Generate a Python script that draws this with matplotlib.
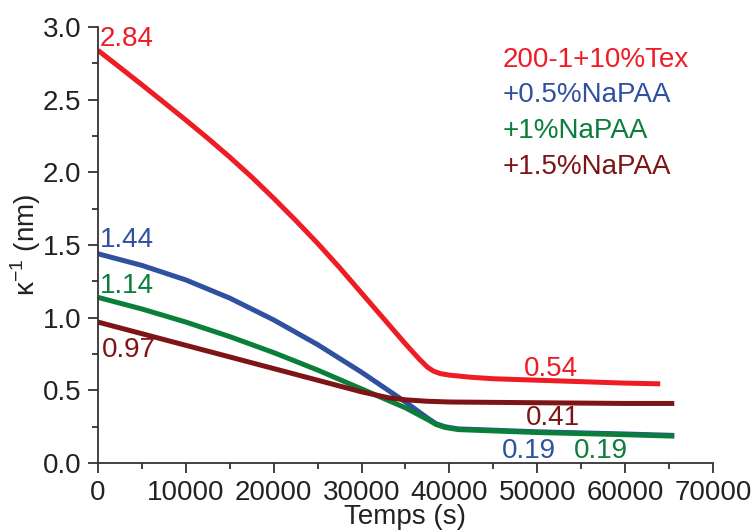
import matplotlib.pyplot as plt
from matplotlib.ticker import MultipleLocator

plt.rcParams['font.family'] = ['Liberation Sans', 'DejaVu Sans']
plt.rcParams['mathtext.fontset'] = 'custom'
plt.rcParams['mathtext.rm'] = 'Liberation Sans'

# curves
t_red = [0, 2500, 5000, 7500, 10000, 12500, 15000, 17500, 20000, 22500, 25000, 27500, 30000,
         32500, 35000, 36500, 37500, 38200, 39000, 40000, 42500, 45000, 50000, 55000, 60000, 64000]
k_red = [2.84, 2.722, 2.603, 2.482, 2.36, 2.235, 2.105, 1.968, 1.822, 1.67, 1.512, 1.345, 1.17,
         0.995, 0.82, 0.72, 0.66, 0.632, 0.615, 0.605, 0.59, 0.58, 0.57, 0.56, 0.55, 0.545]

t_blue = [0, 5000, 10000, 15000, 20000, 25000, 30000, 35000, 37500, 38500, 39500, 41000, 50000, 60000, 65600]
k_blue = [1.44, 1.36, 1.26, 1.135, 0.985, 0.815, 0.625, 0.42, 0.31, 0.27, 0.25, 0.235, 0.215, 0.20, 0.19]

t_green = [0, 5000, 10000, 15000, 20000, 25000, 30000, 35000, 37500, 38500, 39500, 41000, 50000, 60000, 65600]
k_green = [1.14, 1.06, 0.97, 0.87, 0.76, 0.64, 0.51, 0.38, 0.30, 0.265, 0.245, 0.23, 0.21, 0.195, 0.185]

t_brown = [0, 10000, 20000, 30000, 33000, 35000, 37500, 40000, 50000, 60000, 65600]
k_brown = [0.97, 0.81, 0.65, 0.49, 0.45, 0.435, 0.425, 0.42, 0.415, 0.41, 0.41]

names = ['200-1+10%Tex', '+0.5%NaPAA', '+1%NaPAA', '+1.5%NaPAA']
colors = ['#ee1c25', '#3050a0', '#0a7f3a', '#7f1416']

fig = plt.figure(figsize=(7.56, 5.31), dpi=100)
ax = fig.add_axes([0.1296, 0.128, 0.8134, 0.821])

series = [(t_red, k_red), (t_blue, k_blue), (t_green, k_green), (t_brown, k_brown)]
for (t, k), c in zip(series, colors):
    ax.plot(t, k, color=c, lw=3.6, solid_capstyle='butt', solid_joinstyle='round')

ax.set_xlim(0, 70000)
ax.set_ylim(0, 3.0)
ax.xaxis.set_major_locator(MultipleLocator(10000))
ax.xaxis.set_minor_locator(MultipleLocator(5000))
ax.yaxis.set_major_locator(MultipleLocator(0.5))
ax.yaxis.set_minor_locator(MultipleLocator(0.25))
ax.yaxis.set_major_formatter(plt.FormatStrFormatter('%.1f'))
for s in ['top', 'right']:
    ax.spines[s].set_visible(False)
for s in ['left', 'bottom']:
    ax.spines[s].set_linewidth(1.3)
    ax.spines[s].set_color('#333333')
ax.tick_params(which='major', direction='out', length=7, width=1.3, labelsize=20,
               color='#333333', labelcolor='#222222')
ax.tick_params(axis='x', which='major', pad=5)
ax.tick_params(axis='y', which='major', pad=5)
ax.tick_params(which='minor', direction='out', length=4, width=1.3, color='#333333')

ax.set_xlabel('Temps (s)', fontsize=20, color='#222222')
ax.set_ylabel('κ$^{\\mathrm{-1}}$ (nm)', fontsize=20, color='#222222')
ax.xaxis.set_label_coords(0.5, -0.095)
ax.yaxis.set_label_coords(-0.09, 0.5)

# value annotations
fs = 20
ax.text(200, 2.92, '2.84', color=colors[0], fontsize=fs, ha='left', va='center')
ax.text(200, 1.535, '1.44', color=colors[1], fontsize=fs, ha='left', va='center')
ax.text(200, 1.22, '1.14', color=colors[2], fontsize=fs, ha='left', va='center')
ax.text(450, 0.78, '0.97', color=colors[3], fontsize=fs, ha='left', va='center')
ax.text(51600, 0.65, '0.54', color=colors[0], fontsize=fs, ha='center', va='center')
ax.text(51800, 0.31, '0.41', color=colors[3], fontsize=fs, ha='center', va='center')
ax.text(49100, 0.08, '0.19', color=colors[1], fontsize=fs, ha='center', va='center')
ax.text(57200, 0.08, '0.19', color=colors[2], fontsize=fs, ha='center', va='center')

# legend as coloured text
for i, (n, c) in enumerate(zip(names, colors)):
    fig.text(503 / 756, 1 - (60 + 35.5 * i) / 531, n, color=c, fontsize=20, ha='left', va='center')

fig.savefig('out.png', dpi=100)
